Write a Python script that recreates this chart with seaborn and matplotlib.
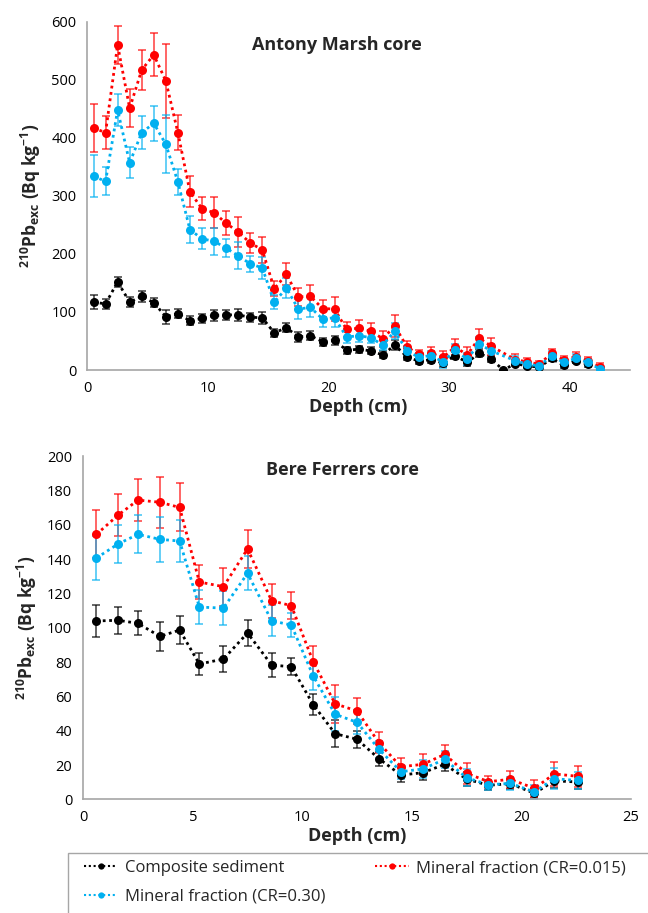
import numpy as np
import pandas as pd
import matplotlib
matplotlib.use("Agg")
import matplotlib.pyplot as plt
from matplotlib.patches import Rectangle
import seaborn as sns

# ---------------- Data: Antony Marsh core ----------------
am_depth = [0.5, 1.5, 2.5, 3.5, 4.5, 5.5, 6.5, 7.5, 8.5, 9.5, 10.5, 11.5, 12.5, 13.5, 14.5,
            15.5, 16.5, 17.5, 18.5, 19.5, 20.5, 21.5, 22.5, 23.5, 24.5, 25.5, 26.5, 27.5, 28.5, 29.5,
            30.5, 31.5, 32.5, 33.5, 34.5, 35.5, 36.5, 37.5, 38.5, 39.5, 40.5, 41.5, 42.5]
am_comp = [117, 114, 152, 117, 127, 116, 92, 97, 85, 89, 94, 95, 95, 91, 90,
           64, 73, 57, 59, 49, 51, 34, 36, 33, 26, 43, 23, 15, 18, 12,
           25, 13, 29, 19, 0, 11, 7, 5, 20, 8, 16, 10, np.nan]
am_comp_err = [12, 9, 9, 9, 9, 8, 12, 8, 8, 8, 10, 8, 10, 8, 10,
               7, 8, 8, 8, 7, 8, 6, 6, 6, 6, 9, 6, 5, 6, 6,
               6, 6, 7, 6, 0, 4, 4, 3, 5, 4, 4, 4, np.nan]
am_m015 = [417, 409, 560, 451, 517, 543, 498, 409, 307, 278, 271, 253, 238, 219, 207,
           140, 165, 126, 127, 106, 105, 70, 72, 67, 54, 76, 40, 27, 29, 22,
           40, 26, 55, 41, np.nan, 18, 14, 10, 29, 17, 23, 16, 5]
am_m015_err = [42, 29, 32, 33, 34, 37, 63, 30, 27, 20, 27, 21, 26, 17, 22,
               13, 19, 16, 20, 14, 20, 13, 14, 14, 14, 19, 10, 8, 10, 10,
               14, 14, 16, 15, np.nan, 10, 7, 5, 8, 8, 8, 7, 7]
am_m030 = [334, 325, 448, 357, 409, 425, 389, 324, 242, 226, 222, 210, 197, 183, 176,
           117, 141, 105, 108, 88, 90, 57, 59, 56, 43, 67, 33, 22, 25, 14,
           34, 19, 45, 33, np.nan, 16, 10, 7, 25, 13, 20, 13, 2]
am_m030_err = [36, 24, 27, 27, 29, 30, 50, 23, 23, 18, 23, 16, 23, 14, 19,
               12, 17, 17, 17, 13, 15, 10, 10, 10, 8, 14, 8, 7, 8, 10,
               10, 10, 12, 12, np.nan, 8, 6, 5, 7, 7, 7, 6, 5]

# ---------------- Data: Bere Ferrers core ----------------
bf_depth = [0.6, 1.6, 2.5, 3.5, 4.4, 5.3, 6.4, 7.5, 8.6, 9.5, 10.5, 11.5, 12.5, 13.5,
            14.5, 15.5, 16.5, 17.5, 18.5, 19.5, 20.6, 21.5, 22.6]
bf_comp = [104, 104.4, 102.6, 95, 98.7, 78.9, 81.8, 97, 78.3, 77.3, 55.2, 38.3, 35, 23.7,
           14.2, 15.5, 20.4, 11.8, 8.2, 9.1, 3.5, 10.8, 10.1]
bf_comp_err = [9.5, 8, 7, 8.5, 8, 6.6, 7.4, 7.5, 7, 5, 6, 8, 5, 4,
               4, 4, 4, 4, 3, 3, 3, 4, 4]
bf_m015 = [154.5, 165.8, 174.5, 173.2, 170.2, 126.7, 124, 146, 115.8, 112.9, 80.2, 55.7, 51.5, 33,
           19, 20.4, 26.2, 15.2, 10.3, 11.7, 6.4, 14.8, 13.4]
bf_m015_err = [14, 12, 12, 15, 14, 10, 11, 11, 10, 8, 9, 11, 7.5, 6,
               5, 6, 5.5, 6, 3.5, 5, 5, 7, 6]
bf_m030 = [140.7, 149, 154.5, 151.6, 150.6, 112.1, 111.5, 131.8, 104.1, 101.6, 71.9, 49.6, 44.9, 29.2,
           16.1, 17.7, 23.3, 12.6, 8.5, 9.3, 4.3, 12, 11]
bf_m030_err = [13, 11, 11, 13, 12, 10, 10, 10, 9, 7, 8, 10, 7, 5,
               4, 5, 5, 5, 3, 4, 4, 6, 5]

series_names = ["Composite sediment", "Mineral fraction (CR=0.015)", "Mineral fraction (CR=0.30)"]
series_colors = ["#000000", "#FF0000", "#00B0F0"]
panel_titles = ["Antony Marsh core", "Bere Ferrers core"]

sns.set_style("white")
plt.rcParams["font.family"] = ["Open Sans", "DejaVu Sans"]
plt.rcParams["mathtext.fontset"] = "custom"
plt.rcParams["mathtext.rm"] = "Open Sans"
plt.rcParams["mathtext.bf"] = "Open Sans:bold"

W, H = 648, 913
fig = plt.figure(figsize=(W / 100, H / 100), dpi=100)
ax1 = fig.add_axes([0.135, 0.5947, 0.837, 0.3815])
ax2 = fig.add_axes([0.1285, 0.1245, 0.845, 0.3757])

ylabel = r"$\mathbf{^{210}Pb_{exc}}$ (Bq kg$\mathbf{^{-1}}$)"


def draw(ax, depth, vals, errs):
    for name, col, v, e in zip(series_names, series_colors, vals, errs):
        df = pd.DataFrame({"depth": depth, "val": v, "err": e})
        ax.errorbar(df["depth"], df["val"], yerr=df["err"], fmt="none",
                    ecolor=col, alpha=0.65, elinewidth=1.3, capsize=3, capthick=1.3, zorder=2)
        sns.lineplot(data=df, x="depth", y="val", ax=ax, color=col, linestyle=(0, (1, 1.3)),
                     linewidth=2, marker="o", markersize=6.5, markeredgewidth=0,
                     label=name, zorder=3, estimator=None, sort=False)


draw(ax1, am_depth, [am_comp, am_m015, am_m030], [am_comp_err, am_m015_err, am_m030_err])
draw(ax2, bf_depth, [bf_comp, bf_m015, bf_m030], [bf_comp_err, bf_m015_err, bf_m030_err])

for ax, xl, yl, xt, yt in [
    (ax1, (0, 45), (0, 600), [0, 10, 20, 30, 40], np.arange(0, 601, 100)),
    (ax2, (0, 25), (0, 200), [0, 5, 10, 15, 20, 25], np.arange(0, 201, 20)),
]:
    ax.set_xlim(*xl)
    ax.set_ylim(*yl)
    ax.set_xticks(xt)
    ax.set_yticks(yt)
    for s in ["top", "right"]:
        ax.spines[s].set_visible(False)
    for s in ["left", "bottom"]:
        ax.spines[s].set_color("#A6A6A6")
        ax.spines[s].set_linewidth(1.2)
    ax.tick_params(axis="both", which="major", direction="out", length=5, width=1,
                   color="#A6A6A6", labelsize=10.5, labelcolor="#000000", pad=3)
    ax.set_xlabel("Depth (cm)", fontsize=13, fontweight="bold", labelpad=1)
    ax.set_ylabel(ylabel, fontsize=12.5, fontweight="bold", labelpad=6)
    if ax.get_legend() is not None:
        ax.get_legend().remove()

# panel titles (placed as in the reference, in figure pixels)
fig.text(337 / W, 1 - 45 / H, panel_titles[0], ha="center", va="center", fontsize=13, fontweight="bold")
fig.text(342 / W, 1 - 470 / H, panel_titles[1], ha="center", va="center", fontsize=13, fontweight="bold")

# legend frame (extends past the right edge as in the reference)
fig.patches.append(Rectangle((68 / W, -0.01), 1.0, (H - 853) / H + 0.01, transform=fig.transFigure,
                             facecolor="white", edgecolor="#A6A6A6", linewidth=1.0, zorder=0))

handles, labels = ax1.get_legend_handles_labels()
order = [0, 2, 1]
leg = fig.legend([handles[i] for i in order], [labels[i] for i in order],
                 loc="upper left", bbox_to_anchor=(84 / W, 1 - 860 / H),
                 ncol=2, fontsize=12, frameon=False, borderaxespad=0, borderpad=0,
                 handlelength=2.0, handletextpad=0.45, labelspacing=0.75,
                 columnspacing=3.0)
for h in leg.legend_handles:
    h.set_markersize(4.5)
    h.set_linewidth(1.5)

fig.savefig("out.png", dpi=100, facecolor="white")
